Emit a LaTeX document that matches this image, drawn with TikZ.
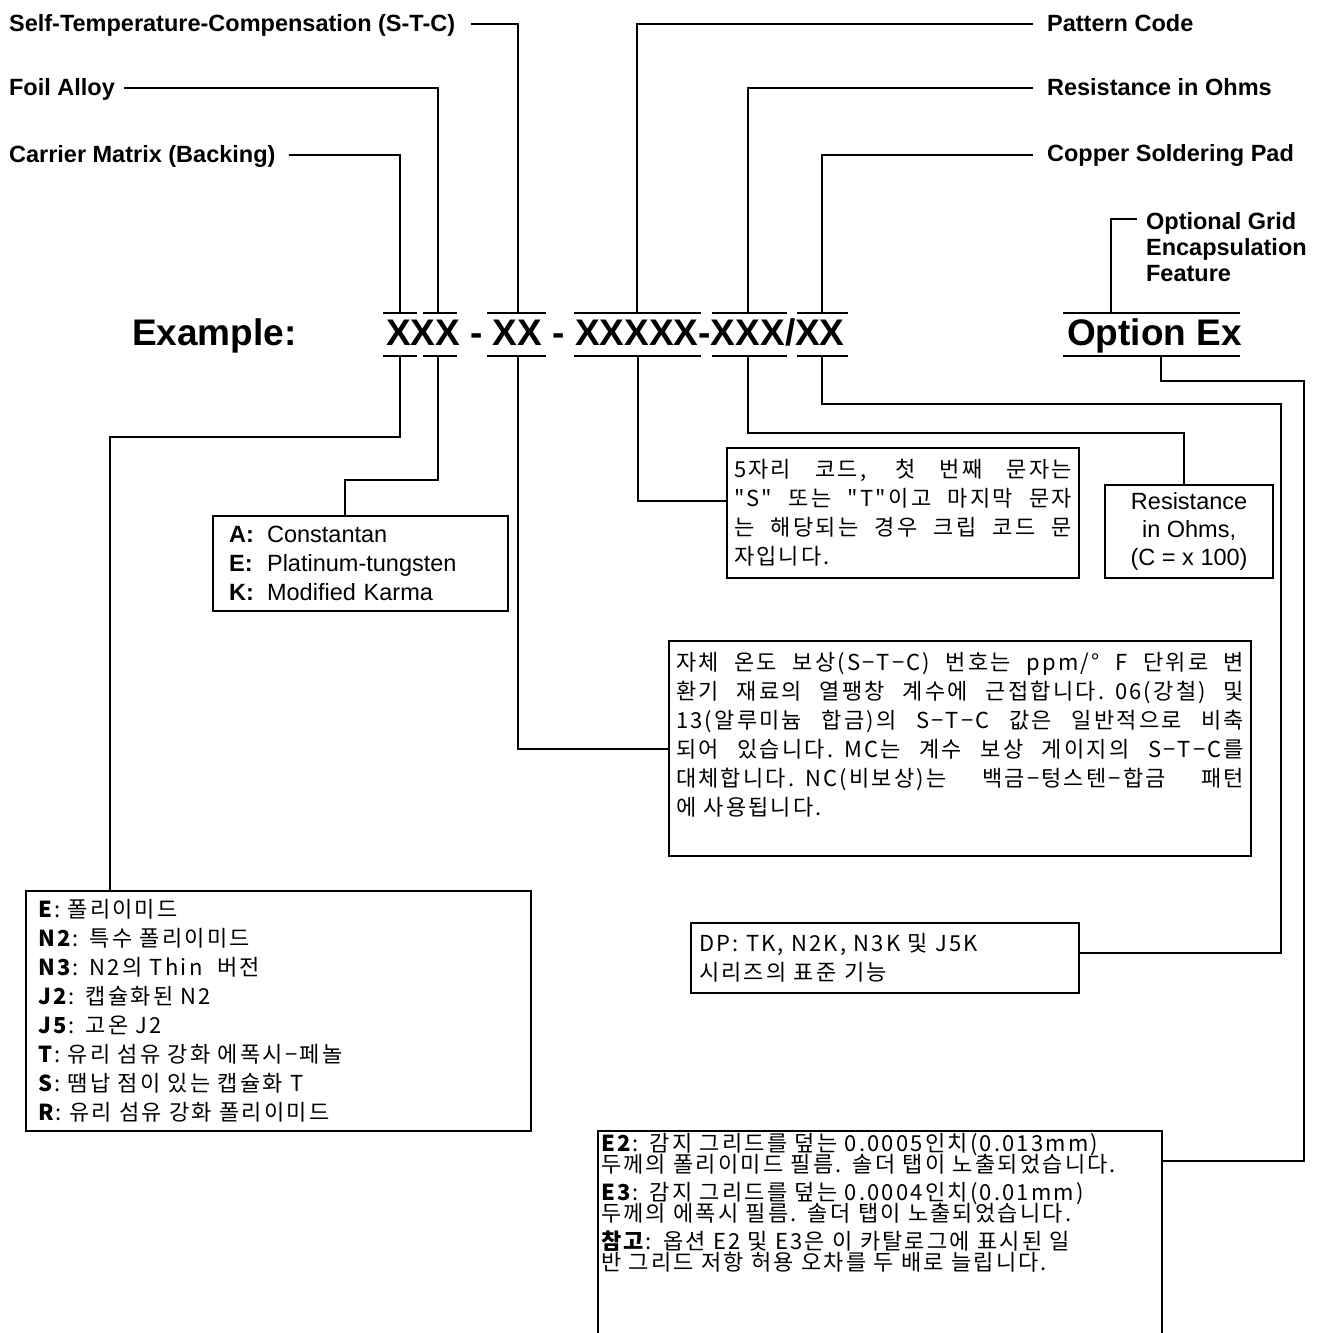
\documentclass[tikz,border=0pt]{standalone}
\usepackage{fontspec}
\setmainfont{Liberation Sans}
\newfontfamily\kr{Noto Sans CJK KR}[Ligatures=TeXOff, WordSpace=2, LetterSpace=10]
\setlength{\parindent}{0pt}
\newcommand{\jl}[2]{\makebox[#1][s]{\spaceskip=0.3em plus 1fill minus 0.2em\relax #2}}
\newcommand{\tightlines}{\setlength{\lineskiplimit}{-20pt}\setlength{\lineskip}{0pt}}

\begin{document}
\begin{tikzpicture}[x=1pt, y=-1pt, line width=2.2pt,
  lbl/.style={font=\fontsize{23.5}{26}\selectfont\bfseries, inner sep=0pt, anchor=base west},
  code/.style={font=\fontsize{37}{40}\selectfont\bfseries, inner sep=0pt, anchor=base west},
  box/.style={draw, anchor=north west, align=left},
  en/.style={font=\fontsize{23.5}{29}\selectfont},
  ko/.style={font=\kr\fontsize{22}{29}\selectfont}]
  \useasboundingbox (0,0) rectangle (1322,1333);
  \clip (0,0) rectangle (1322,1333);

  % labels on top
  \node (stc) [lbl] at (8,31) {Self-Temperature-Compensation (S-T-C)};
  \node (foil) [lbl] at (8,95) {Foil Alloy};
  \node (carrier) [lbl] at (8,162) {Carrier Matrix (Backing)};
  \node (pcode) [lbl] at (1046,31) {Pattern Code};
  \node (resist) [lbl] at (1046,95) {Resistance in Ohms};
  \node (copper) [lbl] at (1046,161) {Copper Soldering Pad};
  \node (optgrid) [lbl, anchor=north west, align=left] at (1145,211) {Optional Grid\\Encapsulation\\Feature};

  % the part number
  \node (example) [code] at (131,345) {Example:};
  \node (partno) [code] at (385,345) {XXX - XX - XXXXX-XXX/XX};
  \node (option) [code] at (1066,345) {Option Ex};
  \foreach \a/\b in {383/417,423/457,487/546,574/701,712/787,797/848,1063/1240}
    \draw (\a,313) -- (\b,313) (\a,356) -- (\b,356);
  \foreach \n/\x in {1/400,2/438,3/518,4/637,5/748,6/822,7/1111}
    \coordinate (t\n) at (\x,313);
  \foreach \n/\x in {1/400,2/438,3/518,4/638,5/748,6/822,7/1161}
    \coordinate (u\n) at (\x,356);

  % boxes
  \node (foilbox) [box, en, minimum width=295pt, minimum height=95pt, text width=263pt, inner xsep=16pt] at (212,515)
    {\makebox[38pt][l]{\textbf{A:}}Constantan\\ \makebox[38pt][l]{\textbf{E:}}Platinum-tungsten\\ \makebox[38pt][l]{\textbf{K:}}Modified Karma};
  \node (patbox) [box, ko, minimum height=130pt, text width=338pt, inner xsep=7pt] at (726,447)
    {\jl{338pt}{5자리 코드, 첫 번째 문자는}\\ \jl{338pt}{"S" 또는 "T"이고 마지막 문자}\\ \jl{338pt}{는 해당되는 경우 크립 코드 문}\\ 자입니다.};
  \node (resbox) [box, en, align=center, minimum width=168pt, minimum height=93pt, inner sep=0pt, font=\fontsize{23.5}{28}\selectfont] at (1104,484)
    {Resistance\\in Ohms,\\(C = x 100)};
  \node (stcbox) [box, ko, minimum height=215pt, text width=568pt, inner xsep=7pt] at (668,640)
    {\jl{568pt}{자체 온도 보상(S−T−C) 번호는 ppm/° F 단위로 변}\\
     \jl{568pt}{환기 재료의 열팽창 계수에 근접합니다. 06(강철) 및}\\
     \jl{568pt}{13(알루미늄 합금)의 S−T−C 값은 일반적으로 비축}\\
     \jl{568pt}{되어 있습니다. MC는 계수 보상 게이지의 S−T−C를}\\
     \jl{568pt}{대체합니다. NC(비보상)는 백금−텅스텐−합금 패턴}\\
     에 사용됩니다.\\ \mbox{}};
  \node (backing) [box, ko, minimum width=505pt, minimum height=240pt, text width=481pt, inner xsep=12pt] at (25,890)
    {\textbf{E}: 폴리이미드\\ \textbf{N2}: 특수 폴리이미드\\ \textbf{N3}: N2의 Thin~ 버전\\ \textbf{J2}: 캡슐화된 N2\\
     \textbf{J5}: 고온 J2\\ \textbf{T}: 유리 섬유 강화 에폭시−페놀\\ \textbf{S}: 땜납 점이 있는 캡슐화 T\\
     \textbf{R}: 유리 섬유 강화 폴리이미드};
  \node (dpbox) [box, ko, minimum width=388pt, minimum height=70pt, text width=372pt, inner xsep=8pt] at (690,922)
    {DP: TK, N2K, N3K 및 J5K\\시리즈의 표준 기능};
  \node (e2box) [box, ko, text width=558pt, inner xsep=3pt, inner ysep=2pt,
      font=\kr\fontsize{22}{21.5}\selectfont\tightlines] at (597,1130)
    {\textbf{E2}: 감지 그리드를 덮는 0.0005인치(0.013mm)\\ 두께의 폴리이미드 필름. 솔더 탭이 노출되었습니다.\\[6pt]
     \textbf{E3}: 감지 그리드를 덮는 0.0004인치(0.01mm)\\ 두께의 에폭시 필름. 솔더 탭이 노출되었습니다.\\[6pt]
     \textbf{참고}: 옵션 E2 및 E3은 이 카탈로그에 표시된 일\\ 반 그리드 저항 허용 오차를 두 배로 늘립니다.\\[60pt] \mbox{}};

  % connectors above
  \draw ([xshift=15pt,yshift=7pt]stc.base east) -| (t3);
  \draw ([xshift=8pt,yshift=7pt]foil.base east) -| (t2);
  \draw ([xshift=12pt,yshift=7pt]carrier.base east) -| (t1);
  \draw ([xshift=-13pt,yshift=7pt]pcode.base west) -| (t4);
  \draw ([xshift=-13pt,yshift=7pt]resist.base west) -| (t5);
  \draw ([xshift=-13pt,yshift=6pt]copper.base west) -| (t6);
  \draw ([xshift=-8pt,yshift=-8pt]optgrid.north west) -| (t7);

  % connectors below
  \coordinate (dpc) at (1281,404);
  \coordinate (optc) at (1304,381);
  \draw (u1) -- ++(0,81) -| ([xshift=85pt]backing.north west);
  \draw (u2) -- ++(0,124) -| ([xshift=133pt]foilbox.north west);
  \draw (u3) |- (stcbox.west);
  \draw (u4) |- ([yshift=12pt]patbox.west);
  \draw (u5) -- ++(0,77) -| ([xshift=-5pt]resbox.north);
  \draw (u6) |- (dpc) |- ([yshift=5pt]dpbox.east);
  \draw (u7) |- (optc) |- ([yshift=-31pt]e2box.north east);
\end{tikzpicture}
\end{document}
